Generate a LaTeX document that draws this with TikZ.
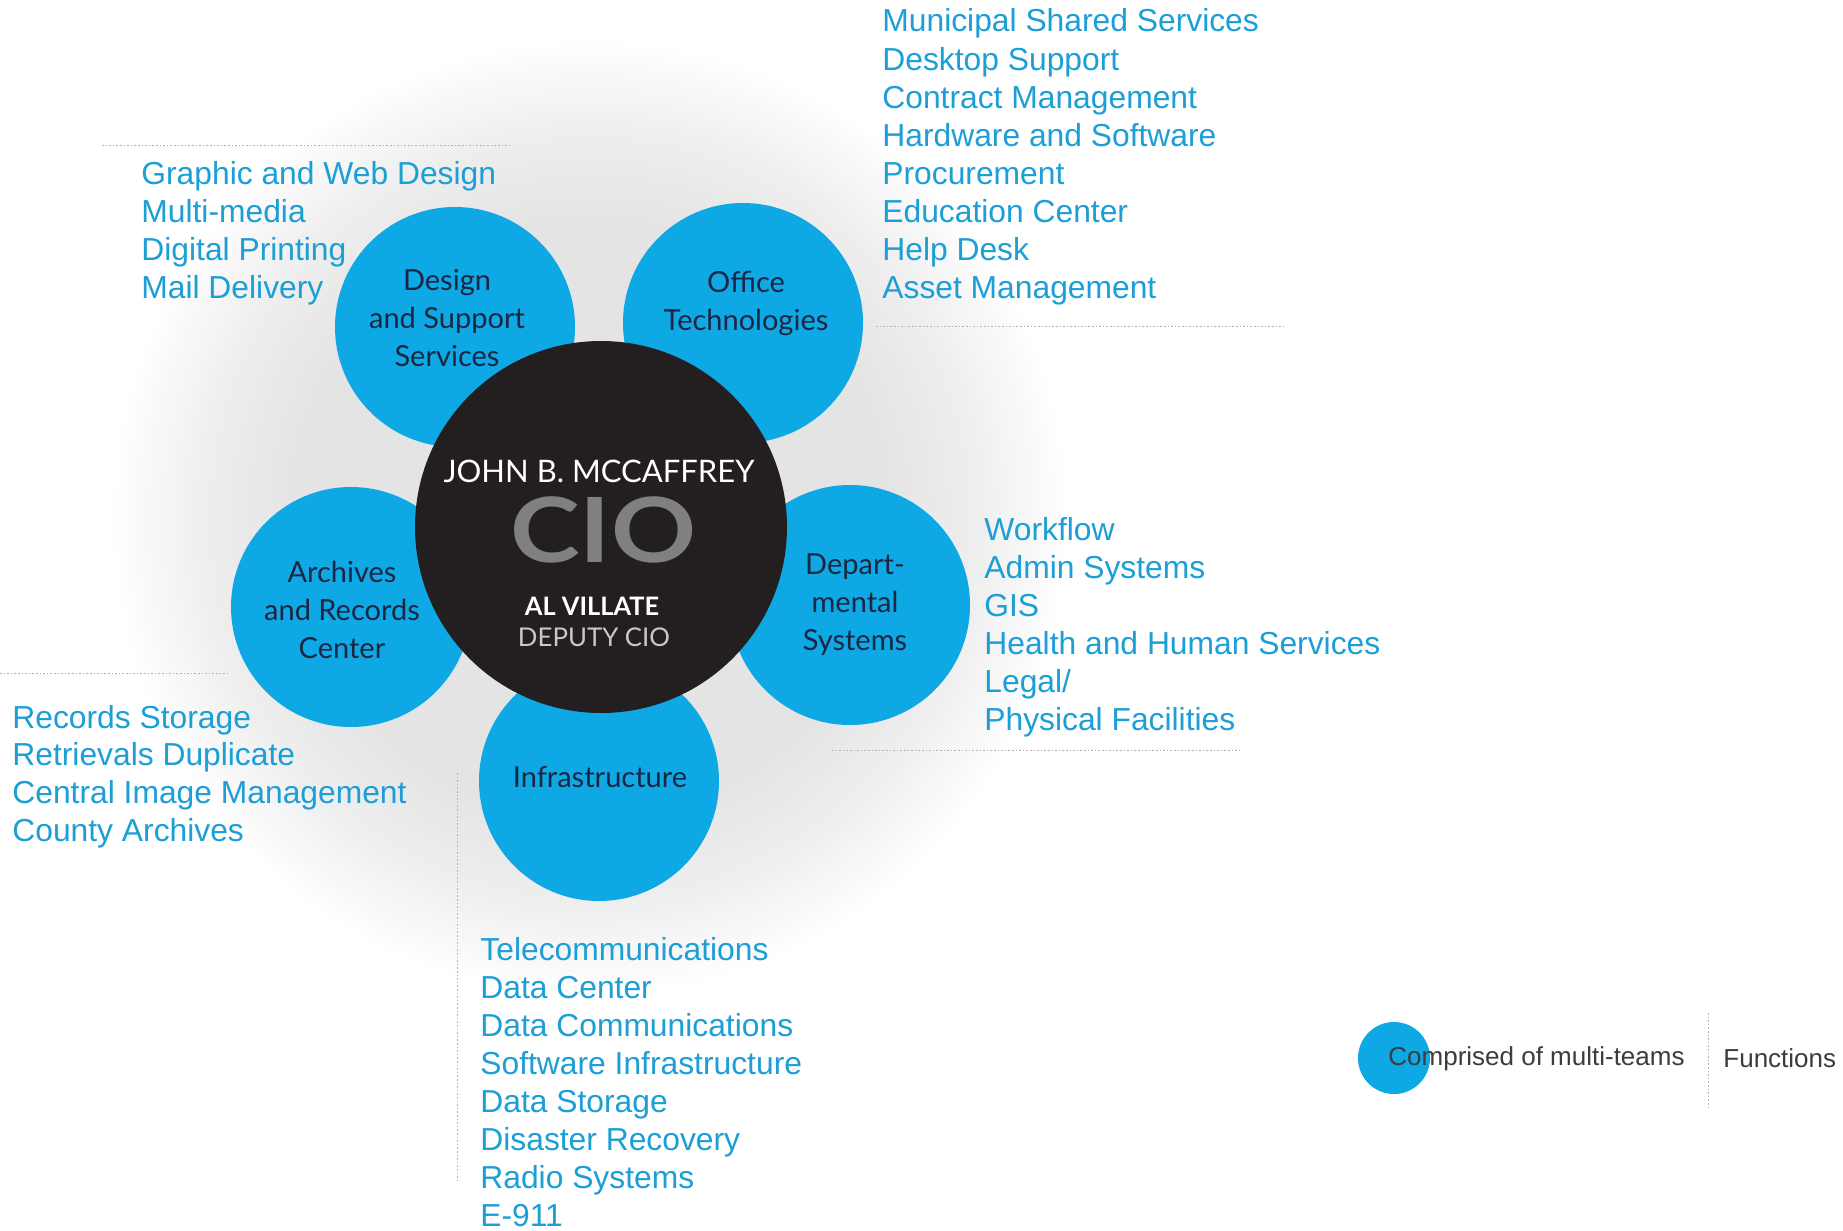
\documentclass[tikz,border=0pt]{standalone}
\usepackage{fontspec}
\setmainfont{Liberation Sans}
\newfontfamily\gill{Lato}
\newfontfamily\gillwide[FakeStretch=1.17]{Lato}
\definecolor{cblue}{RGB}{14,168,228}
\definecolor{tblue}{RGB}{28,158,214}
\definecolor{navy}{RGB}{27,38,66}
\definecolor{blackc}{RGB}{35,31,32}
\definecolor{ciogray}{RGB}{128,128,128}
\definecolor{depgray}{RGB}{200,200,200}
\definecolor{legtext}{RGB}{60,60,60}
\tikzset{
  team/.style={circle, fill=cblue, minimum size=120pt, inner sep=0pt},
  teamtext/.style={align=center, text=navy, font=\gill\fontsize{14.5}{19}\selectfont, inner sep=0pt},
  func/.style={anchor=base west, text=tblue, font=\fontsize{15.9}{19}\selectfont, inner sep=0pt},
  dotline/.style={gray!60, line width=0.5pt, dash pattern=on 0.8pt off 1pt},
}
\begin{document}
\begin{tikzpicture}[x=0.5pt, y=-0.5pt]
\useasboundingbox (0,0) rectangle (1843,1231);
\fill[white] (0,0) rectangle (1843,1231);
% soft grey halo behind the flower
\foreach \r in {480,475,...,5} {
  \pgfmathsetmacro\p{\r<300 ? 21 : (\r<400 ? 21-9*(\r-300)/100 : 12-12*(\r-400)/80)}
  \fill[gray!\p] (590,518) circle (\r);
}

% team circles
\node[team] (des) at (455,327) {};
\node[team] (off) at (743,323) {};
\node[team] (arc) at (351,607) {};
\node[team] (dep) at (850,605) {};
\node[team] (inf) at (599,781) {};
\node[circle, fill=blackc, minimum size=186pt, inner sep=0pt] (cio) at (601,527) {};

\node[teamtext] (des-t) at (447,318) {Design\\and Support\\Services};
\node[teamtext] (off-t) at (746,303) {Office\\Technologies};
\node[teamtext] (arc-t) at (342,610) {Archives\\and Records\\Center};
\node[teamtext] (dep-t) at (855,605) {Depart-\\mental\\Systems};
\node[teamtext] (inf-t) at (600,777) {Infrastructure};

% center text
\node[text=white, font=\gill\fontsize{15.5}{18}\selectfont, inner sep=0pt] (john) at (599,471) {JOHN B. MCCAFFREY};
\node[text=ciogray, font=\gillwide\bfseries\fontsize{45}{50}\selectfont, inner sep=0pt] (ciot) at (603,530) {CIO};
\node[text=white, font=\gill\bfseries\fontsize{12.7}{14}\selectfont, inner sep=0pt] (al) at (592,606) {AL VILLATE};
\node[text=depgray, font=\gill\fontsize{12.9}{14}\selectfont, inner sep=0pt] (deputy) at (594,637) {DEPUTY CIO};

% function lists
\foreach \t [count=\i] in {Municipal Shared Services, Desktop Support, Contract Management, Hardware and Software, Procurement, Education Center, Help Desk, Asset Management}
  \node[func] (offf\i) at (882,{32+38*(\i-1)}) {\t};
\foreach \t [count=\i] in {Graphic and Web Design, Multi-media, Digital Printing, Mail Delivery}
  \node[func] (desf\i) at (141,{184+38*(\i-1)}) {\t};
\foreach \t [count=\i] in {Records Storage, Retrievals Duplicate, Central Image Management, County Archives}
  \node[func] (arcf\i) at (12,{728+37.7*(\i-1)}) {\t};
\foreach \t [count=\i] in {Workflow, Admin Systems, GIS, Health and Human Services, Legal/, Physical Facilities}
  \node[func] (depf\i) at (984,{540+38*(\i-1)}) {\t};
\foreach \t [count=\i] in {Telecommunications, Data Center, Data Communications, Software Infrastructure, Data Storage, Disaster Recovery, Radio Systems, E-911}
  \node[func] (inff\i) at (480,{960+38*(\i-1)}) {\t};

% dotted separators
\draw[dotline] (102,145) -- (509,145);
\draw[dotline] (876,326) -- (1285,326);
\draw[dotline] (0,673) -- (230,673);
\draw[dotline] (832,750) -- (1242,750);
\draw[dotline] (457,773) -- (457,1183);

% legend
\node[circle, fill=cblue, minimum size=36pt, inner sep=0pt] (legc) at (1394,1058) {};
\node[anchor=west, text=legtext, font=\fontsize{13}{15}\selectfont, inner sep=0pt] (legt) at (1388,1059) {Comprised of multi-teams};
\draw[dotline] (1708,1013) -- (1708,1110);
\node[anchor=west, text=legtext, font=\fontsize{13}{15}\selectfont, inner sep=0pt] (legf) at (1723,1058) {Functions};
\end{tikzpicture}
\end{document}
